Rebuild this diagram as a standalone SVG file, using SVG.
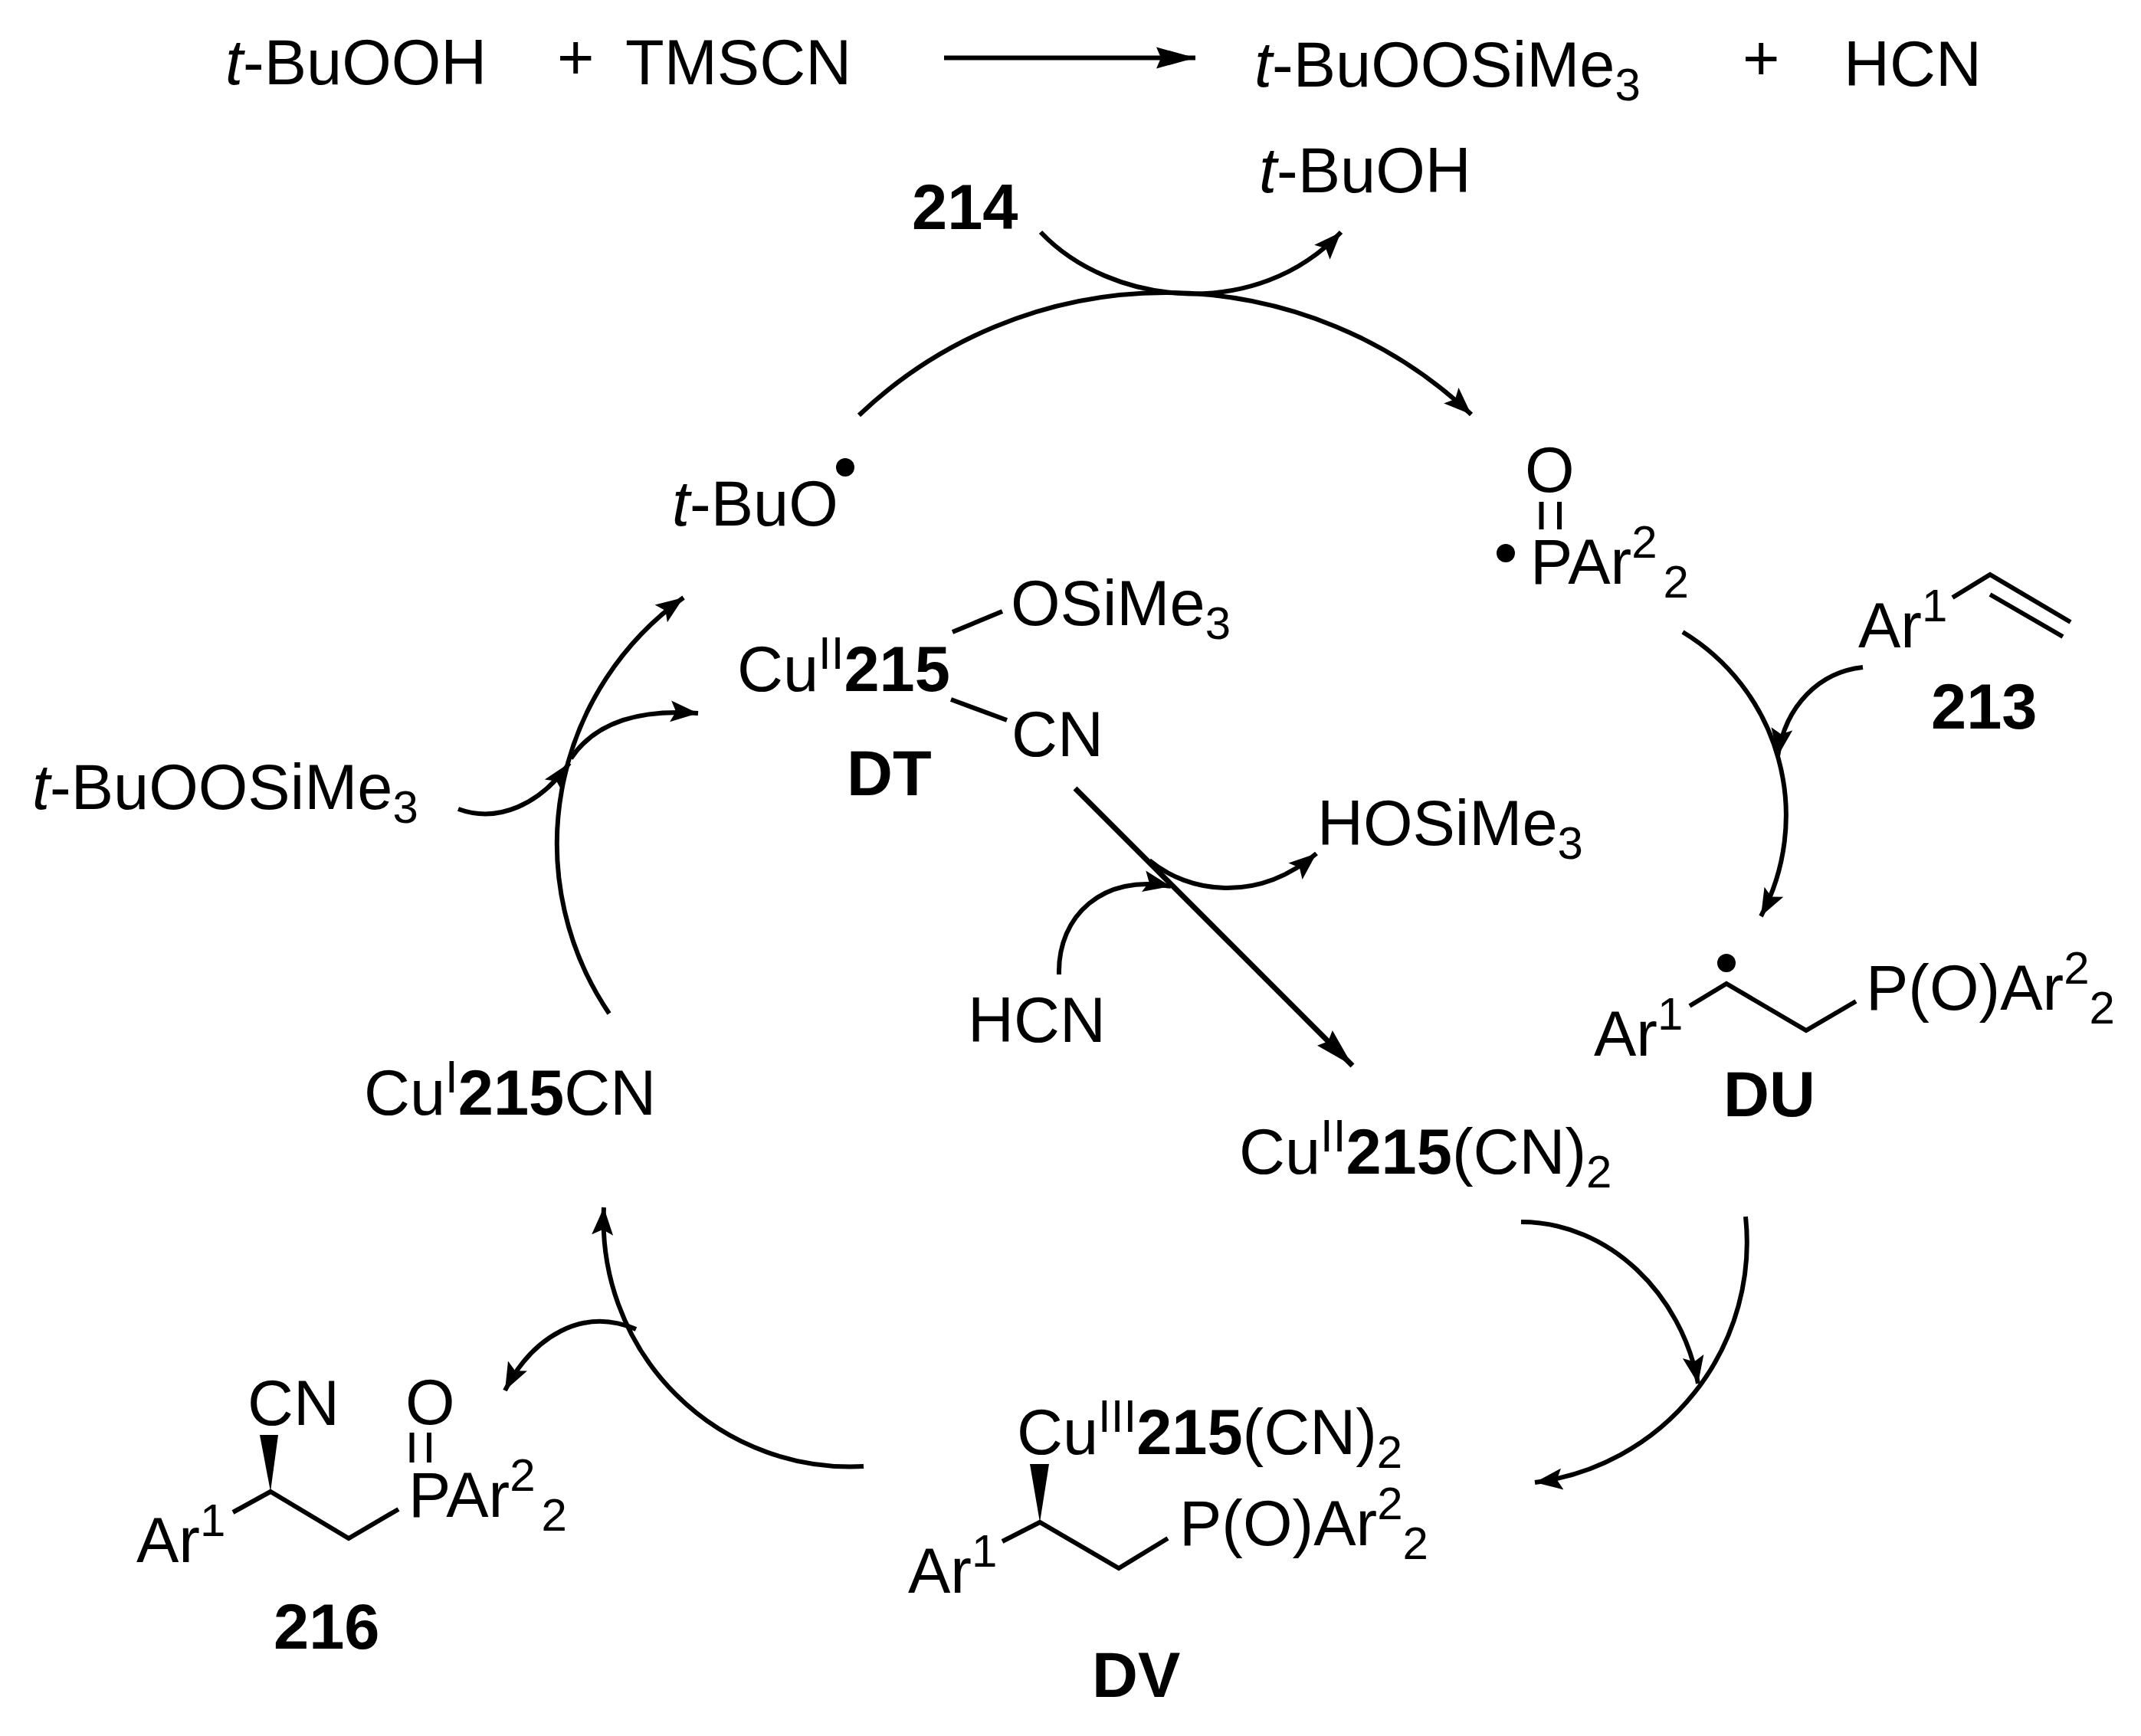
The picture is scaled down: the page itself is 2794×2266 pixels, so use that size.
<svg xmlns="http://www.w3.org/2000/svg" width="2794" height="2266" viewBox="0 0 2794 2266">
<style>
text{font-family:"Liberation Sans",Arial,sans-serif;font-size:83px;fill:#000}
.b{font-weight:bold}
.i{font-style:italic}
.s{font-size:60px}
.l{fill:none;stroke:#000;stroke-width:6}
.d{fill:none;stroke:#000;stroke-width:7}
.bond{fill:none;stroke:#000;stroke-width:6;stroke-linejoin:miter}
.w{fill:#000;stroke:none}
</style>
<defs>
<marker id="sm" markerUnits="userSpaceOnUse" markerWidth="50" markerHeight="40" refX="36" refY="20" orient="auto" viewBox="0 0 50 40"><path d="M36 20L0 6L7 20L0 34Z" fill="#000"/></marker>
<marker id="lg" markerUnits="userSpaceOnUse" markerWidth="70" markerHeight="50" refX="52" refY="25" orient="auto" viewBox="0 0 70 50"><path d="M52 25L1 11L7 25L1 39Z" fill="#000"/></marker>
</defs>
<rect width="2794" height="2266" fill="#fff"/>
<g id="connectors">
<path id="a-top" class="l" d="M1232 75.500H1560" marker-end="url(#lg)"/>
<path id="a-214" class="l" d="M1358 303C1450 400 1640 420 1750 303" marker-end="url(#sm)"/>
<path id="a-main-1" class="l" d="M1121 542A580 580 0 0 1 1920 541" marker-end="url(#sm)"/>
<path id="a-main-2" class="l" d="M2196 825A280 280 0 0 1 2298 1196" marker-end="url(#sm)"/>
<path id="a-213" class="l" d="M2431 871C2375 877 2330 920 2320 987" marker-end="url(#sm)"/>
<path id="a-diag" class="d" d="M1403 1029L1765 1391" marker-end="url(#lg)"/>
<path id="a-hcn" class="l" d="M1382 1272C1380 1195 1440 1140 1528 1157" marker-end="url(#sm)"/>
<path id="a-hosi" class="l" d="M1500 1123C1550 1165 1640 1180 1718 1114" marker-end="url(#sm)"/>
<path id="a-cn" class="l" d="M1985 1595C2100 1595 2195 1690 2216 1806" marker-end="url(#sm)"/>
<path id="a-main-3" class="l" d="M2278 1588A316 316 0 0 1 2003 1935" marker-end="url(#sm)"/>
<path id="a-main-4" class="l" d="M1127 1914A322 322 0 0 1 788 1576" marker-end="url(#sm)"/>
<path id="a-216" class="l" d="M830 1735C760 1705 695 1745 659 1815" marker-end="url(#sm)"/>
<path id="a-main-5" class="l" d="M795 1323A395 395 0 0 1 892 780" marker-end="url(#sm)"/>
<path id="a-si" class="l" d="M598 1056C650 1075 705 1050 743 996" marker-end="url(#sm)"/>
<path id="a-dt" class="l" d="M745 990C775 945 830 925 911 931" marker-end="url(#sm)"/>
</g>
<g id="top-reactant-1"><text x="294" y="110"><tspan class="i">t</tspan>-BuOOH</text></g>
<g id="top-plus-1"><text x="727" y="103">+</text></g>
<g id="top-reactant-2"><text x="816" y="110">TMSCN</text></g>
<g id="top-product-1"><text x="1637" y="113"><tspan class="i">t</tspan>-BuOOSiMe<tspan class="s" dy="18">3</tspan></text></g>
<g id="top-plus-2"><text x="2274" y="104">+</text></g>
<g id="top-product-2"><text x="2406" y="112">HCN</text></g>
<g id="n214"><text class="b" x="1190" y="299">214</text></g>
<g id="tBuOH"><text x="1643" y="251"><tspan class="i">t</tspan>-BuOH</text></g>
<g id="tBuO"><text x="877" y="686"><tspan class="i">t</tspan>-BuO</text><circle cx="1103" cy="610" r="12"/></g>
<g id="DT">
<text x="962" y="902">Cu<tspan class="s" dy="-29">II</tspan><tspan class="b" dy="29">215</tspan></text>
<path class="bond" d="M1243 825L1308 798M1241 913L1314 940"/>
<text x="1319" y="816">OSiMe<tspan class="s" dy="18">3</tspan></text>
<text x="1320" y="987">CN</text>
<text class="b" x="1105" y="1038">DT</text>
</g>
<g id="tBuOOSi"><text x="42" y="1056"><tspan class="i">t</tspan>-BuOOSiMe<tspan class="s" dy="18">3</tspan></text></g>
<g id="PO-radical">
<text x="1990" y="642">O</text>
<path class="bond" d="M2011.500 655V691M2035 655V691"/>
<circle cx="1965" cy="722" r="12"/>
<text x="1997" y="762">PAr<tspan class="s" dy="-34">2</tspan><tspan class="s" dx="8" dy="52">2</tspan></text>
</g>
<g id="n213">
<text x="2425" y="845">Ar<tspan class="s" dy="-34">1</tspan></text>
<path class="bond" d="M2548 780L2597 750L2702 812M2597 776L2692 831"/>
<text class="b" x="2520" y="951">213</text>
</g>
<g id="HOSi"><text x="1719" y="1103">HOSiMe<tspan class="s" dy="18">3</tspan></text></g>
<g id="HCN"><text x="1263" y="1360">HCN</text></g>
<g id="DU">
<text x="2080" y="1378">Ar<tspan class="s" dy="-34">1</tspan></text>
<circle cx="2253" cy="1257" r="12"/>
<path class="bond" d="M2205 1313L2253 1284L2357 1345L2422 1307"/>
<text x="2435" y="1318">P(O)Ar<tspan class="s" dy="-34">2</tspan><tspan class="s" dy="52">2</tspan></text>
<text class="b" x="2249" y="1457">DU</text>
</g>
<g id="Cu215CN"><text x="475" y="1455">Cu<tspan class="s" dy="-29">I</tspan><tspan class="b" dy="29">215</tspan>CN</text></g>
<g id="Cu215CN2"><text x="1617" y="1532">Cu<tspan class="s" dy="-29">II</tspan><tspan class="b" dy="29">215</tspan>(CN)<tspan class="s" dy="18">2</tspan></text></g>
<g id="DV">
<text x="1327" y="1898">Cu<tspan class="s" dy="-29">III</tspan><tspan class="b" dy="29">215</tspan>(CN)<tspan class="s" dy="18">2</tspan></text>
<path class="w" d="M1344 1911H1369L1357 1987Z"/>
<path class="bond" d="M1308 2012L1357 1987L1460 2047L1524 2008"/>
<text x="1185" y="2079">Ar<tspan class="s" dy="-34">1</tspan></text>
<text x="1539" y="2017">P(O)Ar<tspan class="s" dy="-34">2</tspan><tspan class="s" dy="52">2</tspan></text>
<text class="b" x="1425" y="2215">DV</text>
</g>
<g id="n216">
<text x="323" y="1860">CN</text>
<path class="w" d="M339 1873H363L353 1947Z"/>
<path class="bond" d="M304 1974L353 1947L455 2008L520 1970M537.500 1870V1909M560 1870V1909"/>
<text x="529" y="1859">O</text>
<text x="533" y="1980">PAr<tspan class="s" dy="-34">2</tspan><tspan class="s" dx="8" dy="52">2</tspan></text>
<text x="178" y="2039">Ar<tspan class="s" dy="-34">1</tspan></text>
<text class="b" x="357" y="2152">216</text>
</g>
</svg>
